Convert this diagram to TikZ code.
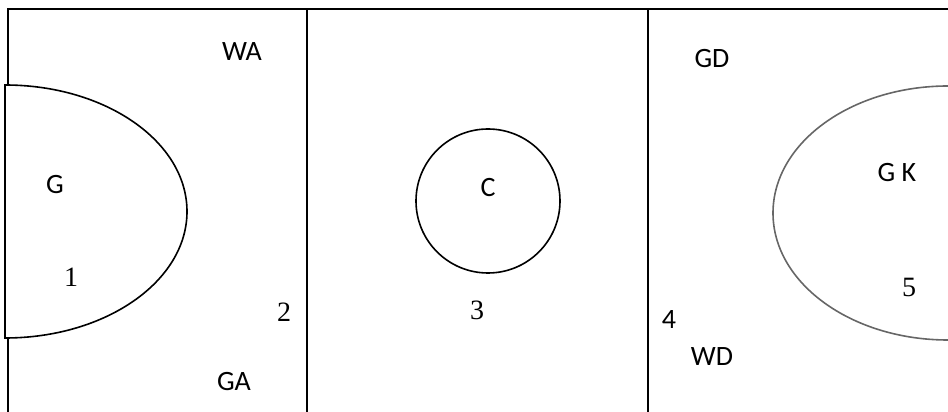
\documentclass[tikz,border=0pt]{standalone}
\usepackage{fontspec}
\setmainfont{Liberation Serif}
\setsansfont{Carlito}
\usepackage{tikz}
\usetikzlibrary{positioning}

\begin{document}
\begin{tikzpicture}[x=1pt,y=1pt, line width=1.6pt,
    player/.style={font=\sffamily\fontsize{28}{32}\selectfont, inner sep=0pt},
    zone/.style={font=\rmfamily\fontsize{28}{32}\selectfont, inner sep=0pt},
    court/.style={draw=black, line width=1.9pt}]
    \useasboundingbox (0,0) rectangle (948,412);
    \clip (0,0) rectangle (948,412);

    % court lines
    \draw[court] (8,328) -- (8,403) -- (948,403);
    \draw[court] (8,74) -- (8,0);
    \draw[court] (307,403) -- (307,0);
    \draw[court] (648,403) -- (648,0);

    % goal circle, centre circle, keeper area
    \draw (5,327) arc[start angle=90, end angle=-90, x radius=182, y radius=126.5] -- cycle;
    \draw (488,211) circle[radius=72];
    \draw[black!60] (948,199) ellipse[x radius=175, y radius=127];

    % positions
    \node[player] (wa) at (242,360) {WA};
    \node[player] (g)  at (55,227)  {G};
    \node[player] (ga) at (234,30)  {GA};
    \node[player] (c)  at (488,224) {C};
    \node[player] (gd) at (712,353) {GD};
    \node[player] (gk) at (897,239) {G K};
    \node[player] (wd) at (712,55)  {WD};
    \node[player] (z4) at (669,92)  {4};

    % zone numbers
    \node[zone] (z1) at (71,135)  {1};
    \node[zone] (z2) at (284,100) {2};
    \node[zone] (z3) at (477,102) {3};
    \node[zone] (z5) at (909,125) {5};
\end{tikzpicture}
\end{document}
